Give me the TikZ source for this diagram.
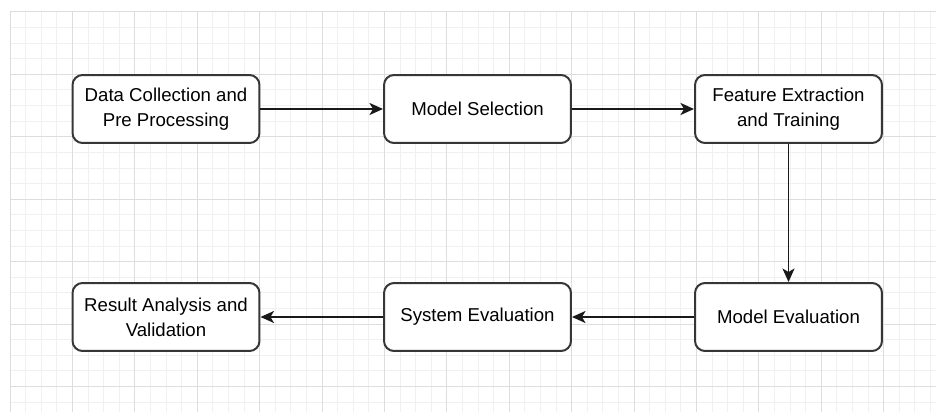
\documentclass[tikz,border=0pt]{standalone}
\usepackage{fontspec}
\setmainfont{Liberation Sans}
\usetikzlibrary{arrows.meta}
\definecolor{GridMinor}{HTML}{F0F0F0}
\definecolor{GridMajor}{HTML}{DDDDDD}
\definecolor{BoxLine}{HTML}{363636}
\tikzset{
    block/.style = {draw=BoxLine, fill=white, rectangle, rounded corners=0.2cm,
        line width=0.04cm, align=center,
        font=\fontsize{10.6}{14.2}\selectfont,
        minimum height=1.36cm,
        minimum width=3.74cm},
    arrow/.style={draw=black!90, line width=0.038cm, -{Stealth[length=0.27cm,width=0.24cm,inset=0.07cm]}},
    gridminor/.style={draw=GridMinor, line width=0.02cm},
    gridmajor/.style={draw=GridMajor, line width=0.02cm}
}
\begin{document}
\begin{tikzpicture}[x=0.02cm,y=-0.02cm]
                \useasboundingbox (0,0) rectangle (936,412);
                \foreach \i in {0,...,59} \draw[gridminor] ({10+15.6*\i},12) -- ({10+15.6*\i},412);
                \foreach \j in {0,...,25} \draw[gridminor] (10,{12+15.6*\j}) -- (936,{12+15.6*\j});
                \foreach \i in {0,...,14} \draw[gridmajor] ({10+62.4*\i},12) -- ({10+62.4*\i},412);
                \foreach \j in {0,...,6} \draw[gridmajor] (10,{12+62.4*\j}) -- (936,{12+62.4*\j});
                \node [block] (collect) at (166,109) {Data Collection and\\Pre Processing};
                \node [block] (select) at (477.5,109) {Model Selection};
                \node [block] (extract) at (788.5,109) {Feature Extraction\\and Training};
                \node [block] (result) at (166,317) {Result Analysis and\\Validation};
                \node [block] (syseval) at (477.5,317) {System Evaluation};
                \node [block] (modeval) at (788.5,317) {Model Evaluation};
                \draw [arrow] (collect) -- (select);
                \draw [arrow] (select) -- (extract);
                \draw [arrow] (extract) -- (modeval);
                \draw [arrow] (modeval) -- (syseval);
                \draw [arrow] (syseval) -- (result);
            \end{tikzpicture}
\end{document}
